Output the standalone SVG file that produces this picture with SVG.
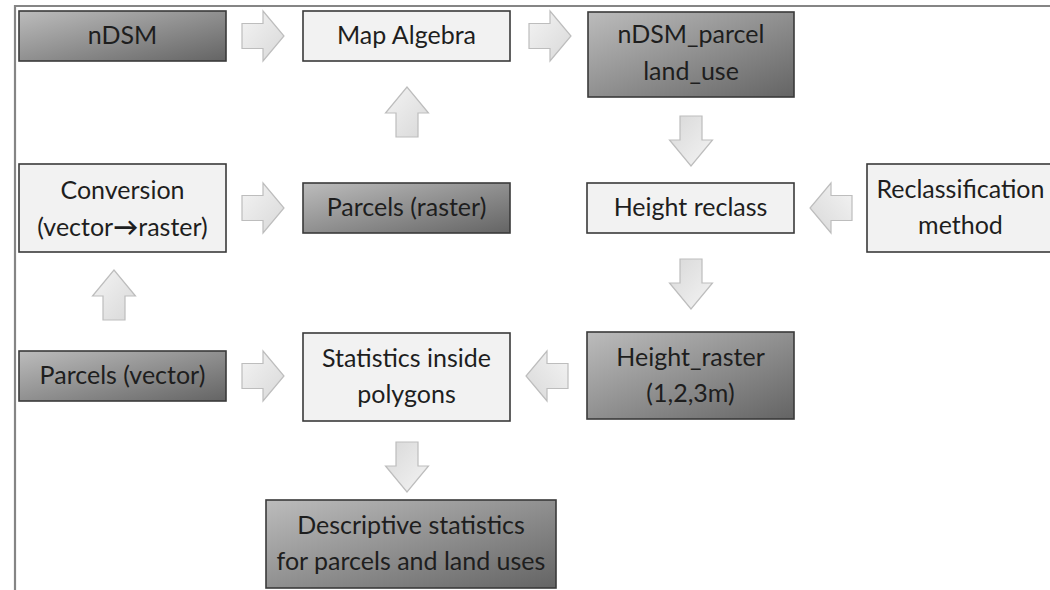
<svg xmlns="http://www.w3.org/2000/svg" width="1050" height="590" viewBox="0 0 1050 590">
<defs>
<linearGradient id="dark" x1="0" y1="0" x2="1" y2="1">
<stop offset="0" stop-color="#bcbcbc"/>
<stop offset="1" stop-color="#646464"/>
</linearGradient>
<linearGradient id="arr" x1="0" y1="0" x2="1" y2="1">
<stop offset="0" stop-color="#f4f4f4"/>
<stop offset="1" stop-color="#d8d8d8"/>
</linearGradient>
<polygon id="harrow" points="-21,-12.5 0,-12.5 0,-25 21,0 0,25 0,12.5 -21,12.5"/>
<polygon id="varrow" points="-11,25 -11,1 -21.5,1 0,-25 21.5,1 11,1 11,25"/>
</defs>
<style>
.dk{fill:url(#dark);stroke:#3a3a3a;stroke-width:1.6}
.lt{fill:#f2f2f2;stroke:#3a3a3a;stroke-width:1.6}
.t{font-family:Lato,"Liberation Sans",sans-serif;font-size:25px;fill:#1e1e1e;text-anchor:middle}
.a{fill:url(#arr);stroke:#bdbdbd;stroke-width:1.2}
.frame{stroke:#858585;stroke-width:2.2;fill:none}
</style>
<rect width="1050" height="590" fill="#ffffff"/>
<path class="frame" d="M15,590 V6 H1050"/>

<g id="connectors">
<use href="#harrow" class="a" transform="translate(263,36)"/>
<use href="#harrow" class="a" transform="translate(550,36)"/>
<use href="#varrow" class="a" transform="translate(407,112)"/>
<use href="#varrow" class="a" transform="translate(691,141) rotate(180)"/>
<use href="#harrow" class="a" transform="translate(263,208)"/>
<use href="#harrow" class="a" transform="translate(831,208) scale(-1,1)"/>
<use href="#varrow" class="a" transform="translate(691,284) rotate(180)"/>
<use href="#varrow" class="a" transform="translate(114,295)"/>
<use href="#harrow" class="a" transform="translate(263,376)"/>
<use href="#harrow" class="a" transform="translate(547,376) scale(-1,1)"/>
<use href="#varrow" class="a" transform="translate(407,467) rotate(180)"/>
</g>

<g id="ndsm">
<rect class="dk" x="19" y="11" width="207" height="50"/>
<text class="t" x="122.5" y="44">nDSM</text>
</g>
<g id="map-algebra">
<rect class="lt" x="303" y="11" width="207" height="50"/>
<text class="t" x="406.5" y="44">Map Algebra</text>
</g>
<g id="ndsm-parcel">
<rect class="dk" x="588" y="12" width="206" height="85"/>
<text class="t" x="691" y="43">nDSM_parcel</text>
<text class="t" x="691" y="80">land_use</text>
</g>
<g id="conversion">
<rect class="lt" x="19" y="164" width="207" height="88"/>
<text class="t" x="122.5" y="199">Conversion</text>
<text class="t" x="122.5" y="236">(vector<tspan font-weight="bold">→</tspan>raster)</text>
</g>
<g id="parcels-raster">
<rect class="dk" x="303" y="183" width="207" height="50"/>
<text class="t" x="406.5" y="216">Parcels (raster)</text>
</g>
<g id="height-reclass">
<rect class="lt" x="587" y="183" width="207" height="50"/>
<text class="t" x="690.5" y="216">Height reclass</text>
</g>
<g id="reclass-method">
<rect class="lt" x="867" y="164" width="207" height="88"/>
<text class="t" x="960.5" y="198">Reclassification</text>
<text class="t" x="960.5" y="234">method</text>
</g>
<g id="parcels-vector">
<rect class="dk" x="19" y="351" width="207" height="50"/>
<text class="t" x="122.5" y="384">Parcels (vector)</text>
</g>
<g id="statistics">
<rect class="lt" x="303" y="333" width="207" height="88"/>
<text class="t" x="406.5" y="367">Statistics inside</text>
<text class="t" x="406.5" y="403">polygons</text>
</g>
<g id="height-raster">
<rect class="dk" x="587" y="332" width="207" height="87"/>
<text class="t" x="690.5" y="366">Height_raster</text>
<text class="t" x="690.5" y="402">(1,2,3m)</text>
</g>
<g id="descriptive">
<rect class="dk" x="266" y="500" width="290" height="88"/>
<text class="t" x="411" y="534">Descriptive statistics</text>
<text class="t" x="411" y="570">for parcels and land uses</text>
</g>
</svg>
